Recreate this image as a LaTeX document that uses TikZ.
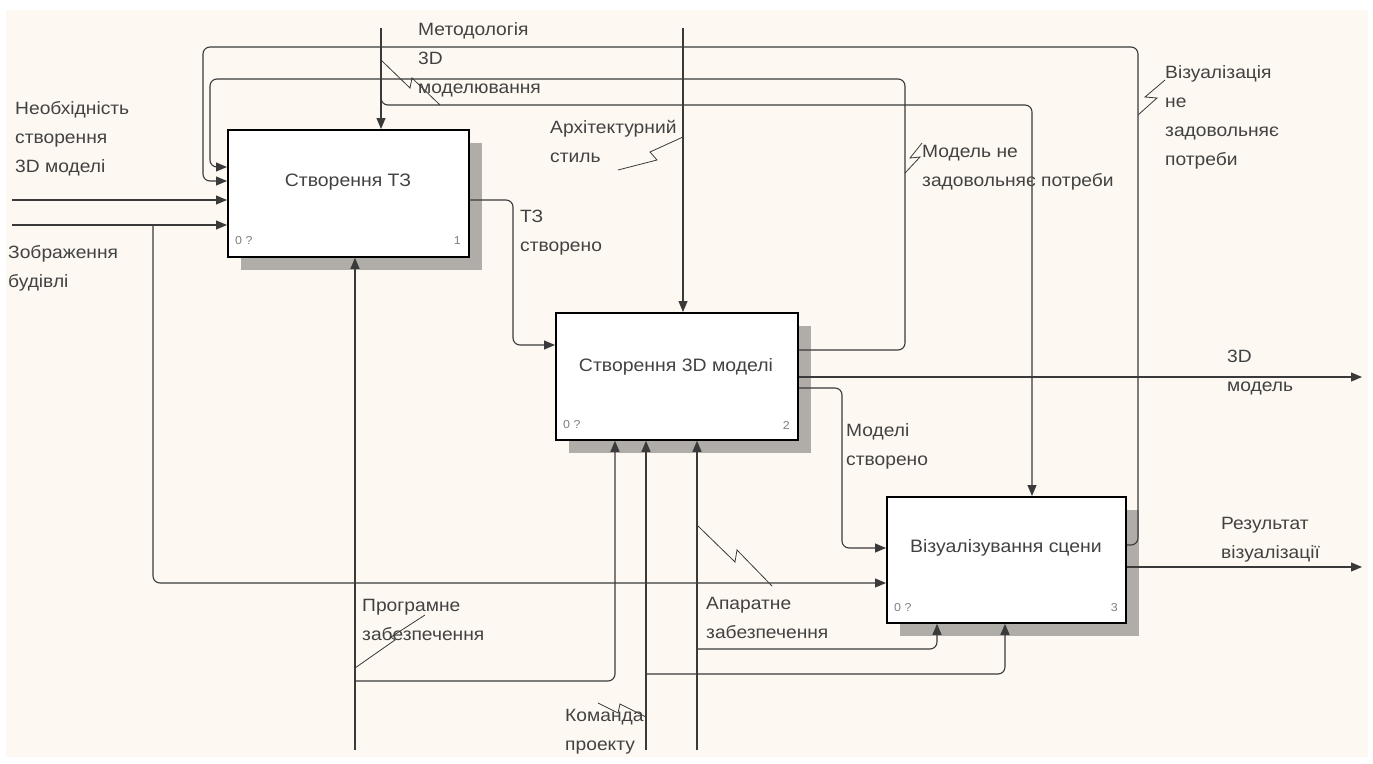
\documentclass[tikz,border=0pt]{standalone}
\usepackage{fontspec}
\setmainfont{Liberation Sans}[FakeStretch=1.08]
\usetikzlibrary{arrows.meta,shadows}

\definecolor{paper}{HTML}{FDF9F2}
\definecolor{ink}{HTML}{3A3A3A}
\definecolor{txt}{HTML}{424242}
\definecolor{shade}{HTML}{B0ADA8}

\begin{document}
\begin{tikzpicture}[x=1pt,y=-1pt,
  actbox/.style={draw=black, line width=1.8pt, fill=white, anchor=north west,
    inner sep=0pt, drop shadow={shadow xshift=13pt, shadow yshift=-13pt, fill=shade, opacity=1}},
  title/.style={text=txt, font=\fontsize{18}{22}\selectfont, inner sep=0pt},
  tag/.style={text=gray, font=\fontsize{11.5}{13}\selectfont, inner sep=0pt},
  lbl/.style={anchor=west, align=left, text=txt, font=\fontsize{17.8}{29}\selectfont, inner sep=0pt},
  flow/.style={draw=ink, line width=1.1pt, rounded corners=7pt},
  sig/.style={flow, -{Triangle[length=11pt,width=9pt]}},
  zig/.style={draw=ink, line width=0.8pt}
]
\useasboundingbox (0,0) rectangle (1373,763);
\fill[white] (0,0) rectangle (1373,763);
\fill[paper] (6,10) rectangle (1368,757);

% activity boxes
\node[actbox, minimum width=241pt, minimum height=127pt] (b1) at (227,129) {};
\node[actbox, minimum width=242pt, minimum height=127pt] (b2) at (555,312) {};
\node[actbox, minimum width=239pt, minimum height=126pt] (b3) at (886,496) {};

\node[title] (t1) at (348,182) {Створення ТЗ};
\node[title] (t2) at (676,367) {Створення 3D моделі};
\node[title] (t3) at (1006,548) {Візуалізування сцени};

\node[tag, anchor=west] (g1a) at (235,241) {0 ?};
\node[tag, anchor=east] (g1b) at (461,241) {1};
\node[tag, anchor=west] (g2a) at (563,425) {0 ?};
\node[tag, anchor=east] (g2b) at (790,425) {2};
\node[tag, anchor=west] (g3a) at (894,608) {0 ?};
\node[tag, anchor=east] (g3b) at (1118,608) {3};

% free ends of the boundary arrows
\coordinate (inA) at (12,200);
\coordinate (inB) at (12,225);
\coordinate (split) at (153,225);
\coordinate (ctlA) at (381,28);
\coordinate (ctlB) at (683,28);
\coordinate (outA) at (1362,377);
\coordinate (outB) at (1362,567);
\coordinate (mechA) at (355,750);
\coordinate (mechB) at (646,750);
\coordinate (mechC) at (697,750);

% inputs
\draw[sig] (inA) -- (b1.west |- inA);
\draw[sig] (inB) -- (b1.west |- inB);
\draw[sig] (split) -- (153,583) -- (b3.west |- 0,583);

% feedback loops
\draw[sig] (b2.east |- 0,350) -- (905,350) -- (905,79) -- (210,79) -- (210,167) -- (b1.west |- 0,167);
\draw[sig] (b3.east |- 0,545) -- (1138,545) -- (1138,47) -- (203,47) -- (203,181) -- (b1.west |- 0,181);

% controls
\draw[sig] (ctlA) -- (b1.north -| ctlA);
\draw[sig] (ctlA) -- (381,105) -- (1032,105) -- (b3.north -| 1032,0);
\draw[sig] (ctlB) -- (b2.north -| ctlB);

% outputs
\draw[sig] (b1.east |- 0,200) -- (513,200) -- (513,345) -- (b2.west |- 0,345);
\draw[sig] (b2.east |- 0,377) -- (outA);
\draw[sig] (b2.east |- 0,388) -- (842,388) -- (842,548) -- (b3.west |- 0,548);
\draw[sig] (b3.east |- 0,567) -- (outB);

% mechanisms
\draw[sig] (mechA) -- (b1.south -| mechA);
\draw[sig] (355,681) -- (615,681) -- (b2.south -| 615,0);
\draw[sig] (mechB) -- (b2.south -| mechB);
\draw[sig] (646,674) -- (1005,674) -- (b3.south -| 1005,0);
\draw[sig] (mechC) -- (b2.south -| mechC);
\draw[sig] (697,649) -- (937,649) -- (b3.south -| 937,0);

% labels
\node[lbl] (lNeed) at (15,139) {Необхідність\\створення\\3D моделі};
\node[lbl] (lImg) at (8,268) {Зображення\\будівлі};
\node[lbl] (lMeth) at (418,60) {Методологія\\3D\\моделювання};
\node[lbl] (lArch) at (550,141) {Архітектурний\\стиль};
\node[lbl] (lTz) at (520,233) {ТЗ\\створено};
\node[lbl] (lMod) at (922,168) {Модель не\\задовольняє потреби};
\node[lbl] (lVis) at (1165,117) {Візуалізація\\не\\задовольняє\\потреби};
\node[lbl] (l3d) at (1227,373) {3D\\модель};
\node[lbl] (lMc) at (846,446) {Моделі\\створено};
\node[lbl] (lRes) at (1221,540) {Результат\\візуалізації};
\node[lbl] (lSw) at (362,620) {Програмне\\забезпечення};
\node[lbl] (lHw) at (706,618) {Апаратне\\забезпечення};
\node[lbl] (lTeam) at (565,732) {Команда\\проекту};

% squiggles tying labels to their arrows
\draw[zig] (381,60) -- (410,88) -- (412,78) -- (440,105);
\draw[zig] (618,170) -- (657,160) -- (650,152) -- (683,137);
\draw[zig] (905,173) -- (920,157) -- (910,158) -- (922,143);
\draw[zig] (1138,115) -- (1157,98) -- (1145,97) -- (1165,80);
\draw[zig] (355,668) -- (395,640) -- (391,637) -- (425,615);
\draw[zig] (697,525) -- (735,562) -- (737,550) -- (772,586);
\draw[zig] (598,703) -- (618,713) -- (620,704) -- (646,717);
\end{tikzpicture}
\end{document}
